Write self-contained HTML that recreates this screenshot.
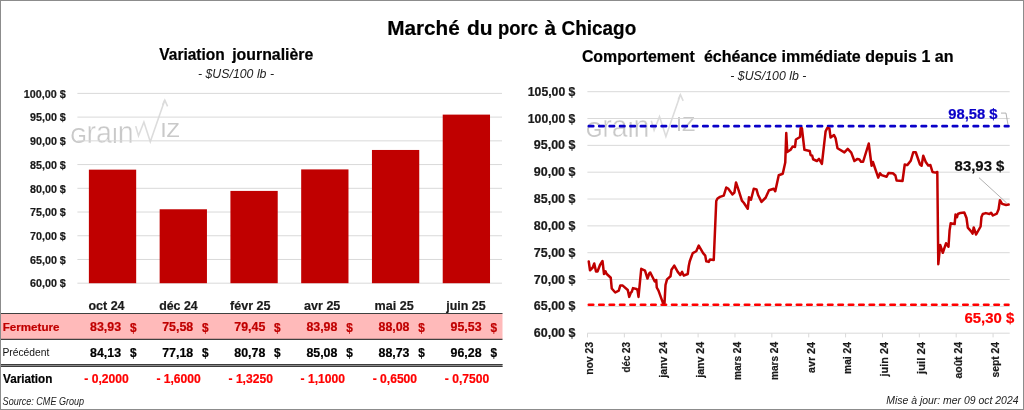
<!DOCTYPE html>
<html lang="fr"><head><meta charset="utf-8"><title>Marché du porc à Chicago</title>
<style>
html,body{margin:0;padding:0;background:#fff;}
svg{display:block;white-space:pre;font-family:'Liberation Sans', Arial, sans-serif;}
</style></head><body>
<svg width="1024" height="410" viewBox="0 0 1024 410" style="font-family:'Liberation Sans', Arial, sans-serif">
<rect width="1024" height="410" fill="#fff"/>
<text y="34.8" font-size="20.3" font-weight="bold" stroke="#000" stroke-width="0.2"><tspan x="387.2" textLength="72.6" lengthAdjust="spacingAndGlyphs">Marché</tspan> <tspan x="467" textLength="25.6" lengthAdjust="spacingAndGlyphs">du</tspan> <tspan x="498" textLength="40" lengthAdjust="spacingAndGlyphs">porc</tspan> <tspan x="544.4" textLength="11.6" lengthAdjust="spacingAndGlyphs">à</tspan> <tspan x="561.6" textLength="74.6" lengthAdjust="spacingAndGlyphs">Chicago</tspan></text>
<text x="159.3" y="59.6" font-size="15.6" font-weight="bold" stroke="#000" stroke-width="0.2" textLength="65.4" lengthAdjust="spacingAndGlyphs">Variation</text>
<text x="232.2" y="59.6" font-size="15.6" font-weight="bold" stroke="#000" stroke-width="0.2" textLength="81.1" lengthAdjust="spacingAndGlyphs">journalière</text>
<text x="198" y="77.8" font-size="12.5" font-style="italic" fill="#222" textLength="76" lengthAdjust="spacingAndGlyphs">- $US/100 lb -</text>
<g transform="translate(0,0)" fill="#c9c9c9" stroke="#fff">
<text x="70.4" y="142.5" font-size="31.6" textLength="63.4" lengthAdjust="spacingAndGlyphs" stroke-width="0.45"><tspan font-size="22.9" stroke="none">G</tspan>ra<tspan font-size="22.9" stroke="none">I</tspan>n</text>
<polyline points="135.7,126.1 138.5,135.7 143.9,122 150.3,141.8 164.8,100.1" fill="none" stroke="#dcdcdc" stroke-width="1.6"/>
<polyline points="162.6,104.9 164.8,100.1 167.6,106.3" fill="none" stroke="#dcdcdc" stroke-width="1.6"/>
<text x="160.4" y="136.8" font-size="20.4" textLength="19.2" lengthAdjust="spacingAndGlyphs" stroke="none">IZ</text>
</g>
<line x1="77.4" x2="502" y1="283.2" y2="283.2" stroke="#D9D9D9" stroke-width="1"/>
<text x="65.8" y="287.4" font-size="10.8" font-weight="bold" stroke="#1a1a1a" stroke-width="0.2" fill="#1a1a1a" text-anchor="end" textLength="35.8" lengthAdjust="spacingAndGlyphs">60,00 $</text>
<line x1="77.4" x2="502" y1="259.48" y2="259.48" stroke="#D9D9D9" stroke-width="1"/>
<text x="65.8" y="263.68" font-size="10.8" font-weight="bold" stroke="#1a1a1a" stroke-width="0.2" fill="#1a1a1a" text-anchor="end" textLength="35.8" lengthAdjust="spacingAndGlyphs">65,00 $</text>
<line x1="77.4" x2="502" y1="235.75" y2="235.75" stroke="#D9D9D9" stroke-width="1"/>
<text x="65.8" y="239.95" font-size="10.8" font-weight="bold" stroke="#1a1a1a" stroke-width="0.2" fill="#1a1a1a" text-anchor="end" textLength="35.8" lengthAdjust="spacingAndGlyphs">70,00 $</text>
<line x1="77.4" x2="502" y1="212.02" y2="212.02" stroke="#D9D9D9" stroke-width="1"/>
<text x="65.8" y="216.22" font-size="10.8" font-weight="bold" stroke="#1a1a1a" stroke-width="0.2" fill="#1a1a1a" text-anchor="end" textLength="35.8" lengthAdjust="spacingAndGlyphs">75,00 $</text>
<line x1="77.4" x2="502" y1="188.3" y2="188.3" stroke="#D9D9D9" stroke-width="1"/>
<text x="65.8" y="192.5" font-size="10.8" font-weight="bold" stroke="#1a1a1a" stroke-width="0.2" fill="#1a1a1a" text-anchor="end" textLength="35.8" lengthAdjust="spacingAndGlyphs">80,00 $</text>
<line x1="77.4" x2="502" y1="164.57" y2="164.57" stroke="#D9D9D9" stroke-width="1"/>
<text x="65.8" y="168.77" font-size="10.8" font-weight="bold" stroke="#1a1a1a" stroke-width="0.2" fill="#1a1a1a" text-anchor="end" textLength="35.8" lengthAdjust="spacingAndGlyphs">85,00 $</text>
<line x1="77.4" x2="502" y1="140.85" y2="140.85" stroke="#D9D9D9" stroke-width="1"/>
<text x="65.8" y="145.05" font-size="10.8" font-weight="bold" stroke="#1a1a1a" stroke-width="0.2" fill="#1a1a1a" text-anchor="end" textLength="35.8" lengthAdjust="spacingAndGlyphs">90,00 $</text>
<line x1="77.4" x2="502" y1="117.12" y2="117.12" stroke="#D9D9D9" stroke-width="1"/>
<text x="65.8" y="121.32" font-size="10.8" font-weight="bold" stroke="#1a1a1a" stroke-width="0.2" fill="#1a1a1a" text-anchor="end" textLength="35.8" lengthAdjust="spacingAndGlyphs">95,00 $</text>
<line x1="77.4" x2="502" y1="93.4" y2="93.4" stroke="#D9D9D9" stroke-width="1"/>
<text x="65.8" y="97.6" font-size="10.8" font-weight="bold" stroke="#1a1a1a" stroke-width="0.2" fill="#1a1a1a" text-anchor="end" textLength="42" lengthAdjust="spacingAndGlyphs">100,00 $</text>
<rect x="88.88" y="169.65" width="47.3" height="113.55" fill="#C00000"/>
<rect x="159.65" y="209.27" width="47.3" height="73.93" fill="#C00000"/>
<rect x="230.42" y="190.91" width="47.3" height="92.29" fill="#C00000"/>
<rect x="301.18" y="169.41" width="47.3" height="113.79" fill="#C00000"/>
<rect x="371.95" y="149.96" width="47.3" height="133.24" fill="#C00000"/>
<rect x="442.72" y="114.61" width="47.3" height="168.59" fill="#C00000"/>
<text x="106.5" y="309.9" font-size="12.8" font-weight="bold" stroke="#1a1a1a" stroke-width="0.2" fill="#1a1a1a" text-anchor="middle" textLength="36.2" lengthAdjust="spacingAndGlyphs">oct 24</text>
<text x="178.4" y="309.9" font-size="12.8" font-weight="bold" stroke="#1a1a1a" stroke-width="0.2" fill="#1a1a1a" text-anchor="middle" textLength="38.5" lengthAdjust="spacingAndGlyphs">déc 24</text>
<text x="250.3" y="309.9" font-size="12.8" font-weight="bold" stroke="#1a1a1a" stroke-width="0.2" fill="#1a1a1a" text-anchor="middle" textLength="40.5" lengthAdjust="spacingAndGlyphs">févr 25</text>
<text x="322.2" y="309.9" font-size="12.8" font-weight="bold" stroke="#1a1a1a" stroke-width="0.2" fill="#1a1a1a" text-anchor="middle" textLength="36.3" lengthAdjust="spacingAndGlyphs">avr 25</text>
<text x="394.1" y="309.9" font-size="12.8" font-weight="bold" stroke="#1a1a1a" stroke-width="0.2" fill="#1a1a1a" text-anchor="middle" textLength="39.2" lengthAdjust="spacingAndGlyphs">mai 25</text>
<text x="466.0" y="309.9" font-size="12.8" font-weight="bold" stroke="#1a1a1a" stroke-width="0.2" fill="#1a1a1a" text-anchor="middle" textLength="39.5" lengthAdjust="spacingAndGlyphs">juin 25</text>
<rect x="0" y="313.5" width="502.5" height="25.8" fill="#FFBABA"/>
<line x1="0" x2="502.5" y1="313.5" y2="313.5" stroke="#404040" stroke-width="1.2"/>
<line x1="0" x2="502.5" y1="339.3" y2="339.3" stroke="#404040" stroke-width="1.2"/>
<rect x="0" y="364" width="502.5" height="3" fill="#8a8a8a"/>
<line x1="0" x2="502.5" y1="364.5" y2="364.5" stroke="#3c3c3c" stroke-width="1"/>
<line x1="0" x2="502.5" y1="366.5" y2="366.5" stroke="#3c3c3c" stroke-width="1"/>
<text x="2.8" y="330.9" font-size="10.6" font-weight="bold" stroke="#C00000" stroke-width="0.2" fill="#C00000" textLength="56.6" lengthAdjust="spacingAndGlyphs">Fermeture</text>
<text x="2.4" y="355.9" font-size="10.3" fill="#111" textLength="47" lengthAdjust="spacingAndGlyphs">Précédent</text>
<text x="3" y="383.3" font-size="12" font-weight="bold" stroke="#000" stroke-width="0.2" textLength="49.3" lengthAdjust="spacingAndGlyphs">Variation</text>
<text x="136.5" y="331.6" font-size="13" font-weight="bold" stroke="#C00000" stroke-width="0.2" fill="#C00000" text-anchor="end" textLength="6.6" lengthAdjust="spacingAndGlyphs">$</text>
<text x="121.1" y="331.3" font-size="12" font-weight="bold" stroke="#C00000" stroke-width="0.2" fill="#C00000" text-anchor="end" textLength="31" lengthAdjust="spacingAndGlyphs">83,93</text>
<text x="136.5" y="356.9" font-size="13" font-weight="bold" stroke="#000" stroke-width="0.2" text-anchor="end" textLength="6.6" lengthAdjust="spacingAndGlyphs">$</text>
<text x="121.1" y="356.6" font-size="12" font-weight="bold" stroke="#000" stroke-width="0.2" text-anchor="end" textLength="31" lengthAdjust="spacingAndGlyphs">84,13</text>
<text x="128.7" y="383.3" font-size="12" font-weight="bold" stroke="#FF0000" stroke-width="0.2" fill="#FF0000" text-anchor="end" textLength="44.4" lengthAdjust="spacingAndGlyphs">- 0,2000</text>
<text x="208.6" y="331.6" font-size="13" font-weight="bold" stroke="#C00000" stroke-width="0.2" fill="#C00000" text-anchor="end" textLength="6.6" lengthAdjust="spacingAndGlyphs">$</text>
<text x="193.2" y="331.3" font-size="12" font-weight="bold" stroke="#C00000" stroke-width="0.2" fill="#C00000" text-anchor="end" textLength="31" lengthAdjust="spacingAndGlyphs">75,58</text>
<text x="208.6" y="356.9" font-size="13" font-weight="bold" stroke="#000" stroke-width="0.2" text-anchor="end" textLength="6.6" lengthAdjust="spacingAndGlyphs">$</text>
<text x="193.2" y="356.6" font-size="12" font-weight="bold" stroke="#000" stroke-width="0.2" text-anchor="end" textLength="31" lengthAdjust="spacingAndGlyphs">77,18</text>
<text x="200.8" y="383.3" font-size="12" font-weight="bold" stroke="#FF0000" stroke-width="0.2" fill="#FF0000" text-anchor="end" textLength="44.4" lengthAdjust="spacingAndGlyphs">- 1,6000</text>
<text x="280.7" y="331.6" font-size="13" font-weight="bold" stroke="#C00000" stroke-width="0.2" fill="#C00000" text-anchor="end" textLength="6.6" lengthAdjust="spacingAndGlyphs">$</text>
<text x="265.3" y="331.3" font-size="12" font-weight="bold" stroke="#C00000" stroke-width="0.2" fill="#C00000" text-anchor="end" textLength="31" lengthAdjust="spacingAndGlyphs">79,45</text>
<text x="280.7" y="356.9" font-size="13" font-weight="bold" stroke="#000" stroke-width="0.2" text-anchor="end" textLength="6.6" lengthAdjust="spacingAndGlyphs">$</text>
<text x="265.3" y="356.6" font-size="12" font-weight="bold" stroke="#000" stroke-width="0.2" text-anchor="end" textLength="31" lengthAdjust="spacingAndGlyphs">80,78</text>
<text x="272.9" y="383.3" font-size="12" font-weight="bold" stroke="#FF0000" stroke-width="0.2" fill="#FF0000" text-anchor="end" textLength="44.4" lengthAdjust="spacingAndGlyphs">- 1,3250</text>
<text x="352.8" y="331.6" font-size="13" font-weight="bold" stroke="#C00000" stroke-width="0.2" fill="#C00000" text-anchor="end" textLength="6.6" lengthAdjust="spacingAndGlyphs">$</text>
<text x="337.4" y="331.3" font-size="12" font-weight="bold" stroke="#C00000" stroke-width="0.2" fill="#C00000" text-anchor="end" textLength="31" lengthAdjust="spacingAndGlyphs">83,98</text>
<text x="352.8" y="356.9" font-size="13" font-weight="bold" stroke="#000" stroke-width="0.2" text-anchor="end" textLength="6.6" lengthAdjust="spacingAndGlyphs">$</text>
<text x="337.4" y="356.6" font-size="12" font-weight="bold" stroke="#000" stroke-width="0.2" text-anchor="end" textLength="31" lengthAdjust="spacingAndGlyphs">85,08</text>
<text x="345.0" y="383.3" font-size="12" font-weight="bold" stroke="#FF0000" stroke-width="0.2" fill="#FF0000" text-anchor="end" textLength="44.4" lengthAdjust="spacingAndGlyphs">- 1,1000</text>
<text x="424.9" y="331.6" font-size="13" font-weight="bold" stroke="#C00000" stroke-width="0.2" fill="#C00000" text-anchor="end" textLength="6.6" lengthAdjust="spacingAndGlyphs">$</text>
<text x="409.5" y="331.3" font-size="12" font-weight="bold" stroke="#C00000" stroke-width="0.2" fill="#C00000" text-anchor="end" textLength="31" lengthAdjust="spacingAndGlyphs">88,08</text>
<text x="424.9" y="356.9" font-size="13" font-weight="bold" stroke="#000" stroke-width="0.2" text-anchor="end" textLength="6.6" lengthAdjust="spacingAndGlyphs">$</text>
<text x="409.5" y="356.6" font-size="12" font-weight="bold" stroke="#000" stroke-width="0.2" text-anchor="end" textLength="31" lengthAdjust="spacingAndGlyphs">88,73</text>
<text x="417.1" y="383.3" font-size="12" font-weight="bold" stroke="#FF0000" stroke-width="0.2" fill="#FF0000" text-anchor="end" textLength="44.4" lengthAdjust="spacingAndGlyphs">- 0,6500</text>
<text x="497.0" y="331.6" font-size="13" font-weight="bold" stroke="#C00000" stroke-width="0.2" fill="#C00000" text-anchor="end" textLength="6.6" lengthAdjust="spacingAndGlyphs">$</text>
<text x="481.6" y="331.3" font-size="12" font-weight="bold" stroke="#C00000" stroke-width="0.2" fill="#C00000" text-anchor="end" textLength="31" lengthAdjust="spacingAndGlyphs">95,53</text>
<text x="497.0" y="356.9" font-size="13" font-weight="bold" stroke="#000" stroke-width="0.2" text-anchor="end" textLength="6.6" lengthAdjust="spacingAndGlyphs">$</text>
<text x="481.6" y="356.6" font-size="12" font-weight="bold" stroke="#000" stroke-width="0.2" text-anchor="end" textLength="31" lengthAdjust="spacingAndGlyphs">96,28</text>
<text x="489.2" y="383.3" font-size="12" font-weight="bold" stroke="#FF0000" stroke-width="0.2" fill="#FF0000" text-anchor="end" textLength="44.4" lengthAdjust="spacingAndGlyphs">- 0,7500</text>
<text x="2.6" y="404.5" font-size="10.2" font-style="italic" fill="#222" textLength="81.5" lengthAdjust="spacingAndGlyphs">Source: CME Group</text>
<text x="581.9" y="62.2" font-size="15.6" font-weight="bold" stroke="#000" stroke-width="0.2" textLength="112.9" lengthAdjust="spacingAndGlyphs">Comportement</text>
<text x="703.9" y="62.2" font-size="15.6" font-weight="bold" stroke="#000" stroke-width="0.2" textLength="249.6" lengthAdjust="spacingAndGlyphs">échéance immédiate depuis 1 an</text>
<text x="730.3" y="80.1" font-size="12.5" font-style="italic" fill="#222" textLength="76" lengthAdjust="spacingAndGlyphs">- $US/100 lb -</text>
<g transform="translate(515.6,-5.4)" fill="#c9c9c9" stroke="#fff">
<text x="70.4" y="142.5" font-size="31.6" textLength="63.4" lengthAdjust="spacingAndGlyphs" stroke-width="0.45"><tspan font-size="22.9" stroke="none">G</tspan>ra<tspan font-size="22.9" stroke="none">I</tspan>n</text>
<polyline points="135.7,126.1 138.5,135.7 143.9,122 150.3,141.8 164.8,100.1" fill="none" stroke="#dcdcdc" stroke-width="1.6"/>
<polyline points="162.6,104.9 164.8,100.1 167.6,106.3" fill="none" stroke="#dcdcdc" stroke-width="1.6"/>
<text x="160.4" y="136.8" font-size="20.4" textLength="19.2" lengthAdjust="spacingAndGlyphs" stroke="none">IZ</text>
</g>
<line x1="587.4" x2="1009.7" y1="333.2" y2="333.2" stroke="#D9D9D9" stroke-width="1"/>
<text x="575.4" y="337.3" font-size="12" font-weight="bold" stroke="#1a1a1a" stroke-width="0.2" fill="#1a1a1a" text-anchor="end" textLength="41.6" lengthAdjust="spacingAndGlyphs">60,00 $</text>
<line x1="587.4" x2="1009.7" y1="306.37" y2="306.37" stroke="#D9D9D9" stroke-width="1"/>
<text x="575.4" y="310.47" font-size="12" font-weight="bold" stroke="#1a1a1a" stroke-width="0.2" fill="#1a1a1a" text-anchor="end" textLength="41.6" lengthAdjust="spacingAndGlyphs">65,00 $</text>
<line x1="587.4" x2="1009.7" y1="279.53" y2="279.53" stroke="#D9D9D9" stroke-width="1"/>
<text x="575.4" y="283.63" font-size="12" font-weight="bold" stroke="#1a1a1a" stroke-width="0.2" fill="#1a1a1a" text-anchor="end" textLength="41.6" lengthAdjust="spacingAndGlyphs">70,00 $</text>
<line x1="587.4" x2="1009.7" y1="252.7" y2="252.7" stroke="#D9D9D9" stroke-width="1"/>
<text x="575.4" y="256.8" font-size="12" font-weight="bold" stroke="#1a1a1a" stroke-width="0.2" fill="#1a1a1a" text-anchor="end" textLength="41.6" lengthAdjust="spacingAndGlyphs">75,00 $</text>
<line x1="587.4" x2="1009.7" y1="225.87" y2="225.87" stroke="#D9D9D9" stroke-width="1"/>
<text x="575.4" y="229.97" font-size="12" font-weight="bold" stroke="#1a1a1a" stroke-width="0.2" fill="#1a1a1a" text-anchor="end" textLength="41.6" lengthAdjust="spacingAndGlyphs">80,00 $</text>
<line x1="587.4" x2="1009.7" y1="199.03" y2="199.03" stroke="#D9D9D9" stroke-width="1"/>
<text x="575.4" y="203.13" font-size="12" font-weight="bold" stroke="#1a1a1a" stroke-width="0.2" fill="#1a1a1a" text-anchor="end" textLength="41.6" lengthAdjust="spacingAndGlyphs">85,00 $</text>
<line x1="587.4" x2="1009.7" y1="172.2" y2="172.2" stroke="#D9D9D9" stroke-width="1"/>
<text x="575.4" y="176.3" font-size="12" font-weight="bold" stroke="#1a1a1a" stroke-width="0.2" fill="#1a1a1a" text-anchor="end" textLength="41.6" lengthAdjust="spacingAndGlyphs">90,00 $</text>
<line x1="587.4" x2="1009.7" y1="145.37" y2="145.37" stroke="#D9D9D9" stroke-width="1"/>
<text x="575.4" y="149.47" font-size="12" font-weight="bold" stroke="#1a1a1a" stroke-width="0.2" fill="#1a1a1a" text-anchor="end" textLength="41.6" lengthAdjust="spacingAndGlyphs">95,00 $</text>
<line x1="587.4" x2="1009.7" y1="118.53" y2="118.53" stroke="#D9D9D9" stroke-width="1"/>
<text x="575.4" y="122.63" font-size="12" font-weight="bold" stroke="#1a1a1a" stroke-width="0.2" fill="#1a1a1a" text-anchor="end" textLength="47.6" lengthAdjust="spacingAndGlyphs">100,00 $</text>
<line x1="587.4" x2="1009.7" y1="91.7" y2="91.7" stroke="#D9D9D9" stroke-width="1"/>
<text x="575.4" y="95.8" font-size="12" font-weight="bold" stroke="#1a1a1a" stroke-width="0.2" fill="#1a1a1a" text-anchor="end" textLength="47.6" lengthAdjust="spacingAndGlyphs">105,00 $</text>
<line x1="587.5" x2="587.5" y1="333.2" y2="337.4" stroke="#D9D9D9" stroke-width="1"/>
<line x1="624.37" x2="624.37" y1="333.2" y2="337.4" stroke="#D9D9D9" stroke-width="1"/>
<line x1="661.24" x2="661.24" y1="333.2" y2="337.4" stroke="#D9D9D9" stroke-width="1"/>
<line x1="698.11" x2="698.11" y1="333.2" y2="337.4" stroke="#D9D9D9" stroke-width="1"/>
<line x1="734.98" x2="734.98" y1="333.2" y2="337.4" stroke="#D9D9D9" stroke-width="1"/>
<line x1="771.85" x2="771.85" y1="333.2" y2="337.4" stroke="#D9D9D9" stroke-width="1"/>
<line x1="808.72" x2="808.72" y1="333.2" y2="337.4" stroke="#D9D9D9" stroke-width="1"/>
<line x1="845.59" x2="845.59" y1="333.2" y2="337.4" stroke="#D9D9D9" stroke-width="1"/>
<line x1="882.46" x2="882.46" y1="333.2" y2="337.4" stroke="#D9D9D9" stroke-width="1"/>
<line x1="919.33" x2="919.33" y1="333.2" y2="337.4" stroke="#D9D9D9" stroke-width="1"/>
<line x1="956.2" x2="956.2" y1="333.2" y2="337.4" stroke="#D9D9D9" stroke-width="1"/>
<line x1="993.07" x2="993.07" y1="333.2" y2="337.4" stroke="#D9D9D9" stroke-width="1"/>
<text transform="translate(593.4,342) rotate(-90)" font-size="10.5" font-weight="bold" text-anchor="end" fill="#1a1a1a" stroke="#1a1a1a" stroke-width="0.2" textLength="32.8" lengthAdjust="spacingAndGlyphs">nov 23</text>
<text transform="translate(630.27,342) rotate(-90)" font-size="10.5" font-weight="bold" text-anchor="end" fill="#1a1a1a" stroke="#1a1a1a" stroke-width="0.2" textLength="30.5" lengthAdjust="spacingAndGlyphs">déc 23</text>
<text transform="translate(667.14,342) rotate(-90)" font-size="10.5" font-weight="bold" text-anchor="end" fill="#1a1a1a" stroke="#1a1a1a" stroke-width="0.2" textLength="35.8" lengthAdjust="spacingAndGlyphs">janv 24</text>
<text transform="translate(704.01,342) rotate(-90)" font-size="10.5" font-weight="bold" text-anchor="end" fill="#1a1a1a" stroke="#1a1a1a" stroke-width="0.2" textLength="35.8" lengthAdjust="spacingAndGlyphs">janv 24</text>
<text transform="translate(740.88,342) rotate(-90)" font-size="10.5" font-weight="bold" text-anchor="end" fill="#1a1a1a" stroke="#1a1a1a" stroke-width="0.2" textLength="38" lengthAdjust="spacingAndGlyphs">mars 24</text>
<text transform="translate(777.75,342) rotate(-90)" font-size="10.5" font-weight="bold" text-anchor="end" fill="#1a1a1a" stroke="#1a1a1a" stroke-width="0.2" textLength="38" lengthAdjust="spacingAndGlyphs">mars 24</text>
<text transform="translate(814.62,342) rotate(-90)" font-size="10.5" font-weight="bold" text-anchor="end" fill="#1a1a1a" stroke="#1a1a1a" stroke-width="0.2" textLength="31" lengthAdjust="spacingAndGlyphs">avr 24</text>
<text transform="translate(851.49,342) rotate(-90)" font-size="10.5" font-weight="bold" text-anchor="end" fill="#1a1a1a" stroke="#1a1a1a" stroke-width="0.2" textLength="32" lengthAdjust="spacingAndGlyphs">mai 24</text>
<text transform="translate(888.36,342) rotate(-90)" font-size="10.5" font-weight="bold" text-anchor="end" fill="#1a1a1a" stroke="#1a1a1a" stroke-width="0.2" textLength="34.5" lengthAdjust="spacingAndGlyphs">juin 24</text>
<text transform="translate(925.23,342) rotate(-90)" font-size="10.5" font-weight="bold" text-anchor="end" fill="#1a1a1a" stroke="#1a1a1a" stroke-width="0.2" textLength="32" lengthAdjust="spacingAndGlyphs">juil 24</text>
<text transform="translate(962.1,342) rotate(-90)" font-size="10.5" font-weight="bold" text-anchor="end" fill="#1a1a1a" stroke="#1a1a1a" stroke-width="0.2" textLength="36.5" lengthAdjust="spacingAndGlyphs">août 24</text>
<text transform="translate(998.97,342) rotate(-90)" font-size="10.5" font-weight="bold" text-anchor="end" fill="#1a1a1a" stroke="#1a1a1a" stroke-width="0.2" textLength="35.5" lengthAdjust="spacingAndGlyphs">sept 24</text>
<line x1="588.8" x2="1008.5" y1="126.15" y2="126.15" stroke="#0A00C8" stroke-width="2.6" stroke-linecap="round" stroke-dasharray="4.5 5.9"/>
<line x1="588.8" x2="1008.5" y1="304.76" y2="304.76" stroke="#FF0000" stroke-width="2.6" stroke-linecap="round" stroke-dasharray="4.5 5.9"/>
<polyline fill="none" stroke="#C00000" stroke-width="2.5" stroke-linejoin="round" stroke-linecap="round" points="588.75,261.5 590,270.25 592.75,267.5 594.25,263.5 596,271.5 597.5,271.5 600,265 602.5,261 604,274 605.5,271.25 606.5,273.75 610.75,277.75 611.75,288.5 615.25,292.5 618.75,290.6 620.25,285.6 622.75,285.6 627.75,290 629.25,296.9 630.9,292.5 631.75,291.9 633,288.1 636.5,289 637.5,290 638.5,296.9 641.25,268.75 645,270.6 647.5,278.5 649.25,273.5 650.25,272.5 654.75,281.5 656.25,280 656.75,287.5 658.5,290.6 663,303.1 664.5,303.1 665.5,285 667,279.4 670.5,276.25 671.5,269.75 674.25,265.6 677.75,271.9 680.25,275 682.1,271.9 683.75,275.6 687.75,274 688.75,266 689.75,261.25 692.75,253.1 696.25,251.25 698.75,245.6 703.1,253.1 705.25,255.6 706.25,261.25 708.75,261.9 710,259.4 713.75,260 716.25,201 717.5,198.5 720,196.9 723.75,195.6 726.25,187.5 728.1,188.5 732.5,194.4 734.4,192.5 736,182.5 738.75,190.6 741.9,200.6 743.75,202.75 747.75,208.75 749,197.25 751,199.75 753.75,188.75 756.5,189.4 758.1,195 761.5,201.9 765.6,197.75 769,190.25 773.75,188.75 775.25,191.25 778.75,175.25 782.75,173.75 785.25,162.6 786.25,133 787.25,152 790.6,149.75 792.75,146.4 795,147 795.9,139.5 800,137 800.6,128.25 801.9,128.25 804.4,149.75 809.75,151 810.6,155.1 812.25,155.75 813.1,159.25 816.9,161 819,158.9 821.9,163.9 825.6,131.4 827.25,128 829.4,128.5 830.6,137.6 834,135.1 835.6,138.25 837.5,148.25 844.4,152.4 847.75,148.9 851.25,152.6 854.4,161 857.5,158.9 859.4,159.5 861,161.75 863.1,161.75 868.75,143.5 871.6,165.75 872.9,162 878.25,177.6 880,173.25 881.6,175.1 886.6,176.75 888.5,173 892.9,173.25 895.4,175.5 896.6,180.5 902.5,181 904.75,164.5 907.25,165.1 910.75,160.75 913.25,152.25 915.75,152.25 920,164.5 921.6,165.75 923.25,155.75 925.75,162 928.25,165.5 930.4,165.1 932.5,172 935.4,172.6 937.3,172 938.3,264.2 940.2,244.9 942.8,252.75 946,243.3 948.5,246.75 949.6,230.4 950.7,223.2 954.65,224.1 955.5,214.6 957,217.1 957.9,214 960.4,212.9 964.3,212.5 966.5,218 967.8,227.6 970.9,231.1 972.6,233.65 973.7,227.5 976.1,234.5 980.6,226.5 981.45,217.1 982.8,214 985.8,213.1 989.4,214 991.1,212.7 992.9,215.5 996.8,213.6 998.6,209.2 999.9,200.2 1002.1,203.9 1006.1,205 1008.7,204.6"/>
<text x="948.3" y="118.5" font-size="14.9" font-weight="bold" stroke="#0A00C8" stroke-width="0.2" fill="#0A00C8" textLength="49.3" lengthAdjust="spacingAndGlyphs">98,58 $</text>
<polyline points="1001,113.1 1006,113.1 1008,124.9" fill="none" stroke="#a8a8a8" stroke-width="0.9"/>
<text x="954.6" y="171" font-size="14.9" font-weight="bold" stroke="#111" stroke-width="0.2" fill="#111" textLength="49.8" lengthAdjust="spacingAndGlyphs">83,93 $</text>
<line x1="979" y1="177.7" x2="1006.7" y2="203" stroke="#a8a8a8" stroke-width="0.9"/>
<text x="964.5" y="323" font-size="14.9" font-weight="bold" stroke="#FF0000" stroke-width="0.2" fill="#FF0000" textLength="49.8" lengthAdjust="spacingAndGlyphs">65,30 $</text>
<text x="886.3" y="404.3" font-size="10.2" font-style="italic" fill="#222" textLength="132.2" lengthAdjust="spacingAndGlyphs">Mise à jour: mer 09 oct 2024</text>
<rect x="0.5" y="0.5" width="1023" height="409" fill="none" stroke="#8c8c8c" stroke-width="1"/>
</svg>
</body></html>
